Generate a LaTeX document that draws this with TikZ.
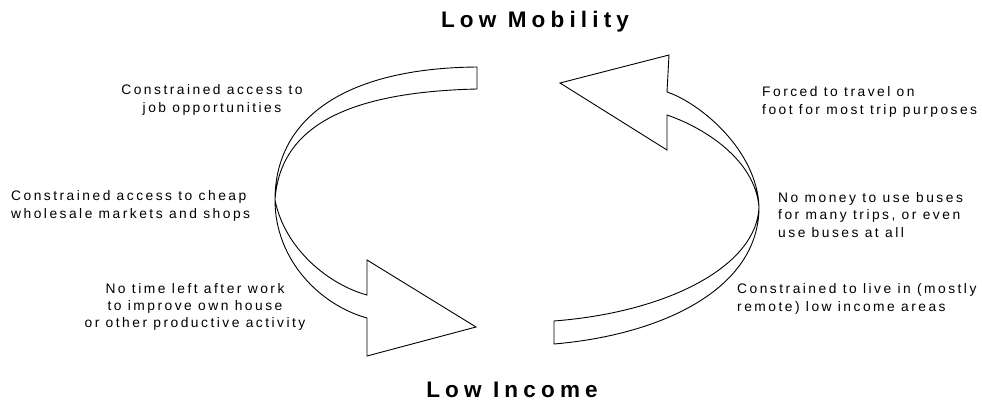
\documentclass[tikz,border=0pt]{standalone}
\usepackage{fontspec}
\setmainfont{Liberation Sans}
\newfontfamily\notefont{Liberation Sans}[LetterSpace=18]
\newfontfamily\headfont{Liberation Sans}[LetterSpace=23]
\usetikzlibrary{positioning}
\tikzset{
  note/.style = {font=\notefont\fontsize{13.8}{17.3}\selectfont, inner sep=0pt},
  heading/.style = {font=\headfont\bfseries\fontsize{22.5}{26}\selectfont, inner sep=0pt},
  cyclearrow/.style = {draw, fill=white, line width=0.9pt, line join=miter},
}

\begin{document}
\begin{tikzpicture}[x=1pt, y=-1pt]
    \useasboundingbox (0,0) rectangle (982,401);

    % Headings of the cycle
    \node[heading, anchor=base] (mobility) at (535,28) {Low Mobility};
    \node[heading, anchor=base] (income) at (512,397) {Low Income};

    % Twist points where the ribbons turn
    \coordinate (twistL) at (275,200);
    \coordinate (twistR) at (759,207);

    % Left ribbon: from mobility down to income
    \draw[cyclearrow] (477,67) .. controls (350,68) and (275,115) .. (twistL)
        .. controls (275,260) and (320,305) .. (367,318)
        -- (367,356) -- (476,327) -- (367,260) -- (367,295)
        .. controls (330,285) and (285,250) .. (twistL)
        .. controls (280,125) and (350,92) .. (477,89) -- cycle;

    % Right ribbon: from income back up to mobility
    \draw[cyclearrow] (554,344) .. controls (660,335) and (759,290) .. (twistR)
        .. controls (757,150) and (700,103) .. (667,92)
        -- (669,55) -- (560,83) -- (667,150) -- (667,115)
        .. controls (705,128) and (755,160) .. (twistR)
        .. controls (757,265) and (670,312) .. (554,321) -- cycle;

    % Effects on the left side
    \node[note, align=center] (jobs) at (212,100) {Constrained access to\\job opportunities};
    \node[note, align=left, anchor=west] (markets) at (11,206) {Constrained access to cheap\\wholesale markets and shops};
    \node[note, align=center] (housing) at (195,307) {No time left after work\\to improve own house\\or other productive activity};

    % Effects on the right side
    \node[note, align=left, anchor=west] (walking) at (762,102) {Forced to travel on\\foot for most trip purposes};
    \node[note, align=left, anchor=west] (buses) at (778,215) {No money to use buses\\for many trips, or even\\use buses at all};
    \node[note, align=left, anchor=west] (areas) at (737,299) {Constrained to live in (mostly\\remote) low income areas};
\end{tikzpicture}
\end{document}
